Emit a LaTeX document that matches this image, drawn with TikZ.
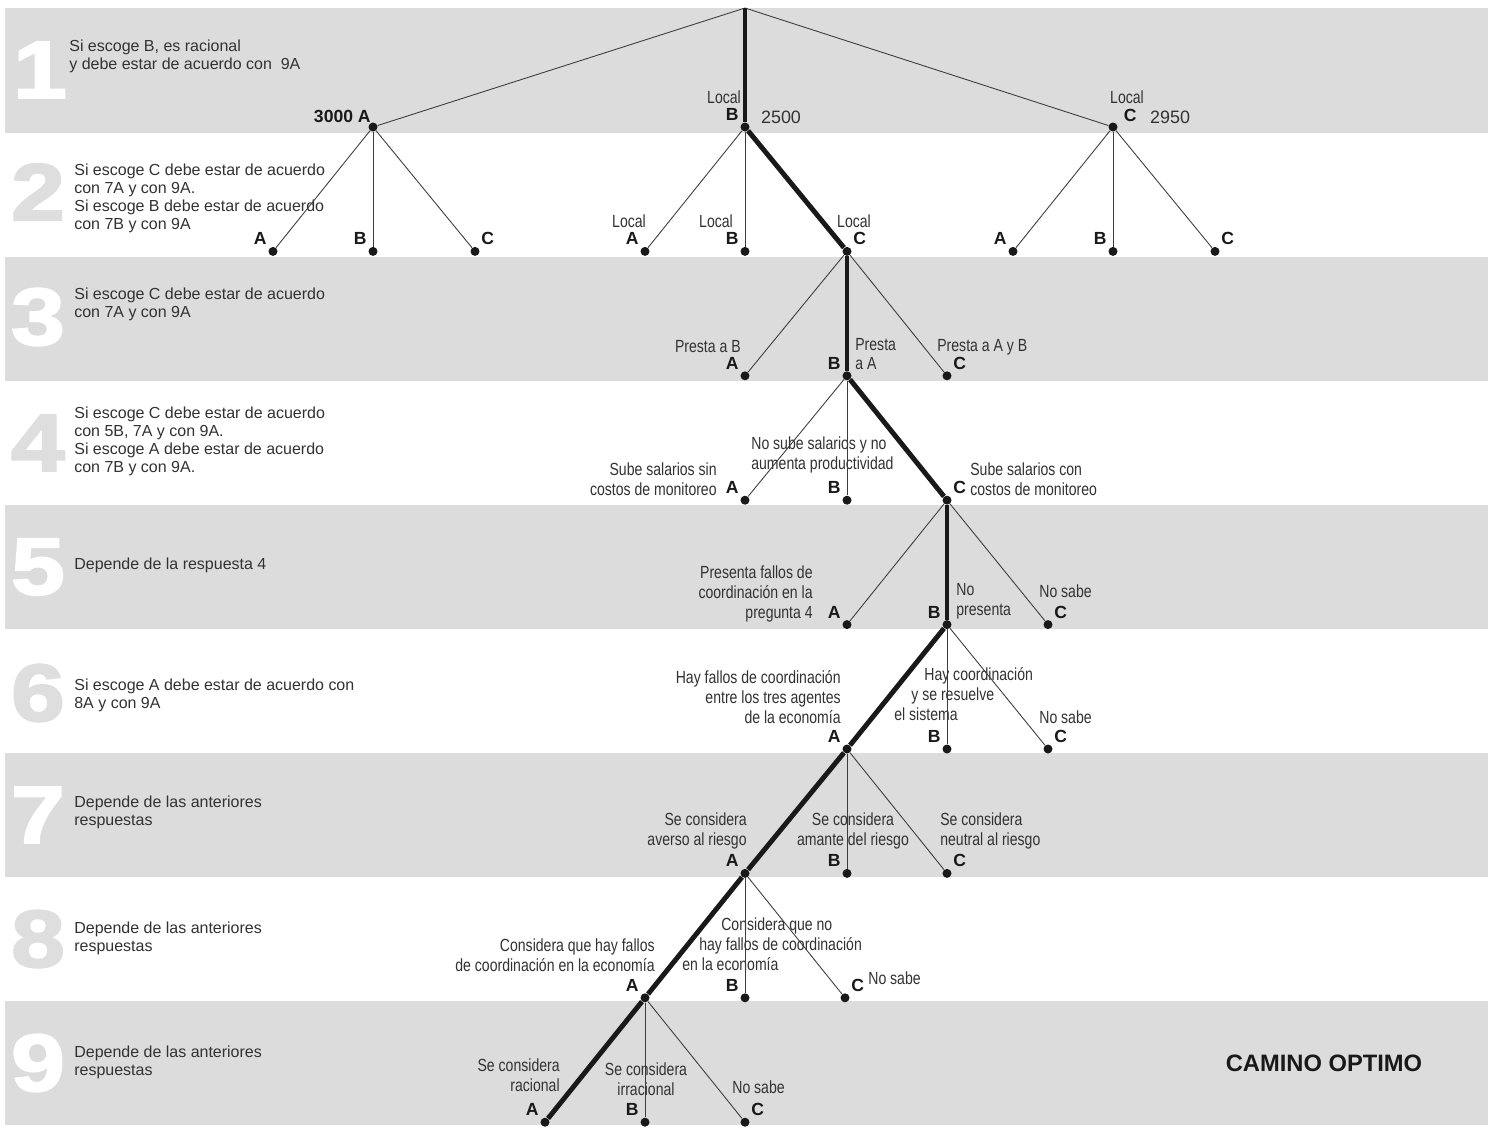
\documentclass[tikz,border=0pt]{standalone}
\usepackage{fontspec}
\setmainfont{Liberation Sans}
\newfontfamily\narrowfont[FakeStretch=0.8]{Liberation Sans}
\newfontfamily\numfont[FakeStretch=1.2, FakeBold=2.5]{Liberation Sans}
\usepackage{tikz}
\usetikzlibrary{positioning}
\definecolor{bandgray}{RGB}{220,220,220}
\definecolor{numgray}{RGB}{222,222,222}
\definecolor{textgray}{RGB}{50,50,50}
\definecolor{linegray}{RGB}{60,60,60}
\definecolor{pathblack}{RGB}{25,25,25}
\tikzset{
  choicedot/.style={
    circle, fill=pathblack, inner sep=0pt, minimum size=0.18cm
  },
  pathline/.style={
    draw=pathblack, line width=2.8pt
  },
  branchline/.style={
    draw=linegray, line width=0.5pt
  },
  letterlbl/.style={
    font=\fontsize{10}{12}\selectfont\bfseries, text=pathblack,
    inner sep=0pt
  },
  answerlbl/.style={
    font=\narrowfont\fontsize{10}{11.3}\selectfont, text=textgray,
    inner sep=0pt
  },
  valuelbl/.style={
    font=\fontsize{10.2}{12}\selectfont, text=textgray, inner sep=0pt
  },
  rulelbl/.style={
    font=\fontsize{9.1}{10.2}\selectfont, text=textgray,
    inner sep=0pt, align=left, anchor=west
  },
  bignum/.style={
    font=\numfont\bfseries\fontsize{46}{46}\selectfont, inner sep=0pt
  },
  titlelbl/.style={
    font=\fontsize{13.5}{16}\selectfont\bfseries, text=pathblack
  },
}

\begin{document}
\begin{tikzpicture}[x=0.02cm, y=-0.02cm]

  \useasboundingbox (0,0) rectangle (1488,1133);
  \fill[white] (0,0) rectangle (1488,1133);

  %% Bands
  \fill[bandgray] (5,8) rectangle (1488,133);
  \fill[bandgray] (5,257) rectangle (1488,381);
  \fill[bandgray] (5,505) rectangle (1488,629);
  \fill[bandgray] (5,753) rectangle (1488,877);
  \fill[bandgray] (5,1001) rectangle (1488,1125);

  %% Question numbers
  \node[bignum, text=white] (n1) at (40,70) {1};
  \node[bignum, text=numgray] (n2) at (38,192) {2};
  \node[bignum, text=white] (n3) at (38,317) {3};
  \node[bignum, text=numgray] (n4) at (38,443) {4};
  \node[bignum, text=white] (n5) at (38,567) {5};
  \node[bignum, text=numgray] (n6) at (38,693) {6};
  \node[bignum, text=white] (n7) at (38,815) {7};
  \node[bignum, text=numgray] (n8) at (38,939) {8};
  \node[bignum, text=white] (n9) at (38,1063) {9};

  %% Rules
  \node[rulelbl] (r1) at (69,56)
    {Si escoge B, es racional\\y debe estar de acuerdo con~~9A};
  \node[rulelbl] (r2) at (74,198)
    {Si escoge C debe estar de acuerdo\\con 7A y con 9A.\\
     Si escoge B debe estar de acuerdo\\con 7B y con 9A};
  \node[rulelbl] (r3) at (74,304)
    {Si escoge C debe estar de acuerdo\\con 7A y con 9A};
  \node[rulelbl] (r4) at (74,441)
    {Si escoge C debe estar de acuerdo\\con 5B, 7A y con 9A.\\
     Si escoge A debe estar de acuerdo\\con 7B y con 9A.};
  \node[rulelbl] (r5) at (74,565) {Depende de la respuesta 4};
  \node[rulelbl] (r6) at (74,695)
    {Si escoge A debe estar de acuerdo con\\8A y con 9A};
  \node[rulelbl] (r7) at (74,812)
    {Depende de las anteriores\\respuestas};
  \node[rulelbl] (r8) at (74,938)
    {Depende de las anteriores\\respuestas};
  \node[rulelbl] (r9) at (74,1062)
    {Depende de las anteriores\\respuestas};

  %% Level 1
  \coordinate (top) at (745,8);
  \node[choicedot] (a1) at (373,127) {};
  \node[choicedot] (b1) at (745,127) {};
  \node[choicedot] (c1) at (1113,127) {};

  \node[letterlbl, anchor=south east] (la1) at (371,123) {3000 A};
  \node[letterlbl, above left=1.5pt and 1.5pt of b1] (lb1) {B};
  \node[valuelbl, above right=0pt and 7pt of b1] (vb1) {2500};
  \node[answerlbl] (tb1) at (724,97) {Local};
  \node[letterlbl, above right=1pt and 4pt of c1] (lc1) {C};
  \node[valuelbl, above right=0pt and 19pt of c1] (vc1) {2950};
  \node[answerlbl] (tc1) at (1127,97) {Local};

  \draw[branchline] (top) -- (a1);
  \draw[branchline] (top) -- (c1);
  \draw[pathline] (top) -- (b1);

  %% Level 2
  \node[choicedot] (a1a) at (273,251.4) {};
  \node[choicedot] (a1b) at (373,251.4) {};
  \node[choicedot] (a1c) at (475,251.4) {};
  \node[choicedot] (b1a) at (645,251.4) {};
  \node[choicedot] (b1b) at (745,251.4) {};
  \node[choicedot] (b1c) at (847,251.4) {};
  \node[choicedot] (c1a) at (1013,251.4) {};
  \node[choicedot] (c1b) at (1113,251.4) {};
  \node[choicedot] (c1c) at (1215,251.4) {};

  \node[letterlbl, above left=1.5pt and 1.5pt of a1a] (la1a) {A};
  \node[letterlbl, above left=1.5pt and 1.5pt of a1b] (la1b) {B};
  \node[letterlbl, above right=1.5pt and 1.5pt of a1c] (la1c) {C};
  \node[letterlbl, above left=1.5pt and 1.5pt of b1a] (lb1a) {A};
  \node[letterlbl, above left=1.5pt and 1.5pt of b1b] (lb1b) {B};
  \node[letterlbl, above right=1.5pt and 1.5pt of b1c] (lb1c) {C};
  \node[letterlbl, above left=1.5pt and 1.5pt of c1a] (lc1a) {A};
  \node[letterlbl, above left=1.5pt and 1.5pt of c1b] (lc1b) {B};
  \node[letterlbl, above right=1.5pt and 1.5pt of c1c] (lc1c) {C};
  \node[answerlbl] (tb1a) at (629,221) {Local};
  \node[answerlbl] (tb1b) at (716,221) {Local};
  \node[answerlbl] (tb1c) at (854,221) {Local};

  \draw[branchline] (a1) -- (a1a);
  \draw[branchline] (a1) -- (a1b);
  \draw[branchline] (a1) -- (a1c);
  \draw[branchline] (b1) -- (b1a);
  \draw[branchline] (b1) -- (b1b);
  \draw[pathline] (b1) -- (b1c);
  \draw[branchline] (c1) -- (c1a);
  \draw[branchline] (c1) -- (c1b);
  \draw[branchline] (c1) -- (c1c);

  %% Level 3
  \node[choicedot] (q3a) at (745,375.8) {};
  \node[choicedot] (q3b) at (847,375.8) {};
  \node[choicedot] (q3c) at (947,375.8) {};

  \node[letterlbl, above left=1.5pt and 1.5pt of q3a] (l3a) {A};
  \node[letterlbl, above left=1.5pt and 1.5pt of q3b] (l3b) {B};
  \node[letterlbl, above right=1.5pt and 1.5pt of q3c] (l3c) {C};
  \node[answerlbl, anchor=east] (t3a) at (741,347) {Presta a B};
  \node[answerlbl, anchor=west, align=left] (t3b) at (855,354)
    {Presta\\a A};
  \node[answerlbl, anchor=west] (t3c) at (937,347) {Presta a A y B};

  \draw[branchline] (b1c) -- (q3a);
  \draw[pathline] (b1c) -- (q3b);
  \draw[branchline] (b1c) -- (q3c);

  %% Level 4
  \node[choicedot] (q4a) at (745,500.2) {};
  \node[choicedot] (q4b) at (847,500.2) {};
  \node[choicedot] (q4c) at (947,500.2) {};

  \node[letterlbl, above left=1.5pt and 1.5pt of q4a] (l4a) {A};
  \node[letterlbl, above left=1.5pt and 1.5pt of q4b] (l4b) {B};
  \node[letterlbl, above right=1.5pt and 1.5pt of q4c] (l4c) {C};
  \node[answerlbl, anchor=east, align=right] (t4a) at (717,479)
    {Sube salarios sin\\costos de monitoreo};
  \node[answerlbl, anchor=west, align=left] (t4b) at (751,455)
    {No sube salarios y no\\aumenta productividad};
  \node[answerlbl, anchor=west, align=left] (t4c) at (970,479)
    {Sube salarios con\\costos de monitoreo};

  \draw[branchline] (q3b) -- (q4a);
  \draw[branchline] (q3b) -- (q4b);
  \draw[pathline] (q3b) -- (q4c);

  %% Level 5
  \node[choicedot] (q5a) at (847,624.6) {};
  \node[choicedot] (q5b) at (947,624.6) {};
  \node[choicedot] (q5c) at (1048,624.6) {};

  \node[letterlbl, above left=1.5pt and 1.5pt of q5a] (l5a) {A};
  \node[letterlbl, above left=1.5pt and 1.5pt of q5b] (l5b) {B};
  \node[letterlbl, above right=1.5pt and 1.5pt of q5c] (l5c) {C};
  \node[answerlbl, anchor=east, align=right] (t5a) at (813,594)
    {Presenta fallos de\\coordinación en la\\pregunta 4};
  \node[answerlbl, anchor=west, align=left] (t5b) at (956,601)
    {No\\presenta};
  \node[answerlbl, anchor=west] (t5c) at (1039,591) {No sabe};

  \draw[branchline] (q4c) -- (q5a);
  \draw[pathline] (q4c) -- (q5b);
  \draw[branchline] (q4c) -- (q5c);

  %% Level 6
  \node[choicedot] (q6a) at (847,749) {};
  \node[choicedot] (q6b) at (947,749) {};
  \node[choicedot] (q6c) at (1048,749) {};

  \node[letterlbl, above left=1.5pt and 1.5pt of q6a] (l6a) {A};
  \node[letterlbl, above left=1.5pt and 1.5pt of q6b] (l6b) {B};
  \node[letterlbl, above right=1.5pt and 1.5pt of q6c] (l6c) {C};
  \node[answerlbl, anchor=east, align=right] (t6a) at (841,697)
    {Hay fallos de coordinación\\entre los tres agentes\\de la economía};
  \node[answerlbl, anchor=west, align=left] (t6b) at (894,694)
    {\hspace*{0.6cm}Hay coordinación\\\hspace*{0.34cm}y se resuelve\\el sistema};
  \node[answerlbl, anchor=west] (t6c) at (1039,717) {No sabe};

  \draw[pathline] (q5b) -- (q6a);
  \draw[branchline] (q5b) -- (q6b);
  \draw[branchline] (q5b) -- (q6c);

  %% Level 7
  \node[choicedot] (q7a) at (745,873.4) {};
  \node[choicedot] (q7b) at (847,873.4) {};
  \node[choicedot] (q7c) at (947,873.4) {};

  \node[letterlbl, above left=1.5pt and 1.5pt of q7a] (l7a) {A};
  \node[letterlbl, above left=1.5pt and 1.5pt of q7b] (l7b) {B};
  \node[letterlbl, above right=1.5pt and 1.5pt of q7c] (l7c) {C};
  \node[answerlbl, anchor=east, align=right] (t7a) at (747,831)
    {Se considera\\averso al riesgo};
  \node[answerlbl, align=center] (t7b) at (853,831)
    {Se considera\\amante del riesgo};
  \node[answerlbl, anchor=west, align=left] (t7c) at (940,831)
    {Se considera\\neutral al riesgo};

  \draw[pathline] (q6a) -- (q7a);
  \draw[branchline] (q6a) -- (q7b);
  \draw[branchline] (q6a) -- (q7c);

  %% Level 8
  \node[choicedot] (q8a) at (645,997.8) {};
  \node[choicedot] (q8b) at (745,997.8) {};
  \node[choicedot] (q8c) at (845,997.8) {};

  \node[letterlbl, above left=1.5pt and 1.5pt of q8a] (l8a) {A};
  \node[letterlbl, above left=1.5pt and 1.5pt of q8b] (l8b) {B};
  \node[letterlbl, above right=1.5pt and 1.5pt of q8c] (l8c) {C};
  \node[answerlbl, anchor=east, align=right] (t8a) at (655,955)
    {Considera que hay fallos\\de coordinación en la economía};
  \node[answerlbl, anchor=west, align=left] (t8b) at (682,944)
    {\hspace*{0.78cm}Considera que no\\\hspace*{0.34cm}hay fallos de coordinación\\en la economía};
  \node[answerlbl, anchor=west] (t8c) at (868,978) {No sabe};

  \draw[pathline] (q7a) -- (q8a);
  \draw[branchline] (q7a) -- (q8b);
  \draw[branchline] (q7a) -- (q8c);

  %% Level 9
  \node[choicedot] (q9a) at (545,1122.2) {};
  \node[choicedot] (q9b) at (645,1122.2) {};
  \node[choicedot] (q9c) at (745,1122.2) {};

  \node[letterlbl, above left=1.5pt and 1.5pt of q9a] (l9a) {A};
  \node[letterlbl, above left=1.5pt and 1.5pt of q9b] (l9b) {B};
  \node[letterlbl, above right=1.5pt and 1.5pt of q9c] (l9c) {C};
  \node[answerlbl, anchor=east, align=right] (t9a) at (560,1075)
    {Se considera\\racional};
  \node[answerlbl, align=center] (t9b) at (646,1079)
    {Se considera\\irracional};
  \node[answerlbl, anchor=west] (t9c) at (732,1087) {No sabe};

  \draw[pathline] (q8a) -- (q9a);
  \draw[branchline] (q8a) -- (q9b);
  \draw[branchline] (q8a) -- (q9c);

  %% Title
  \node[titlelbl] (camino) at (1324,1063) {CAMINO OPTIMO};

\end{tikzpicture}
\end{document}
